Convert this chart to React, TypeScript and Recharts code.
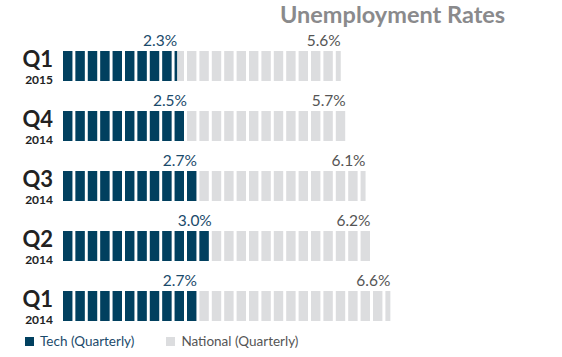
import { BarChart, Bar, XAxis, YAxis, LabelList } from "recharts"

const quarters = ["Q1", "Q4", "Q3", "Q2", "Q1"]
const years = ["2015", "2014", "2014", "2014", "2014"]
const techRates = [2.3, 2.5, 2.7, 3.0, 2.7]
const nationalRates = [5.6, 5.7, 6.1, 6.2, 6.6]

const TECH = "#01405f"
const NATIONAL = "#dcdddf"
const FONT = "Lato, 'Open Sans', sans-serif"

const data = quarters.map((q, i) => ({
  key: `${q} ${years[i]}`,
  quarter: q,
  year: years[i],
  tech: techRates[i],
  national: nationalRates[i],
}))

// each block is a quarter of a percentage point
const STEP = 0.25
const GAP = 3

const segmented = (fill: string) => (props: any) => {
  const { x, y, width, height, value } = props
  const v = Array.isArray(value) ? value[1] - value[0] : value
  if (!v || width <= 0) return <g />
  const seg = (width / v) * STEP
  const rects = []
  for (let i = 0; i * seg < width - 0.01; i++) {
    const sx = x + i * seg
    const w = Math.min(seg - GAP, x + width - sx)
    rects.push(<rect key={i} x={sx} y={y} width={Math.max(w, 0)} height={height} fill={fill} />)
  }
  return <g>{rects}</g>
}

const valueLabel = (color: string) => (props: any) => {
  const { x, y, width, value } = props
  return (
    <text x={x + width} y={y - 5} textAnchor="end" fill={color} fontSize={15.5} fontFamily={FONT}>
      {`${Number(value).toFixed(1)}%`}
    </text>
  )
}

const QuarterTick = (props: any) => {
  const { x, y, payload } = props
  const row = data.find((d) => d.key === payload.value)
  return (
    <g>
      <text x={x} y={y + 1} textAnchor="end" fill="#222" fontSize={22} fontWeight="bold" fontFamily={FONT}>
        {row?.quarter}
      </text>
      <text x={x} y={y + 18} textAnchor="end" fill="#222" fontSize={12} fontWeight="bold" fontFamily={FONT}>
        {row?.year}
      </text>
    </g>
  )
}

export default function App() {
  return (
    <div style={{ position: "absolute", left: 0, top: 0, width: 562, height: 357, background: "#fff", fontFamily: FONT }}>
      <div style={{ position: "absolute", left: 280, top: 1, fontSize: 23.5, lineHeight: "26px", fontWeight: "bold", color: "#8a8a8c" }}>
        Unemployment Rates
      </div>
      <BarChart
        width={562}
        height={357}
        layout="vertical"
        data={data}
        margin={{ top: 36, right: 3, bottom: 21, left: 0 }}
        barSize={30}
        barGap={-30}
      >
        <XAxis type="number" domain={[0, 10]} hide />
        <YAxis
          type="category"
          dataKey="key"
          width={63}
          axisLine={false}
          tickLine={false}
          tickMargin={4}
          tick={<QuarterTick />}
        />
        <Bar dataKey="national" shape={segmented(NATIONAL)} isAnimationActive={false}>
          <LabelList dataKey="national" content={valueLabel("#555")} />
        </Bar>
        <Bar dataKey="tech" shape={segmented(TECH)} isAnimationActive={false}>
          <LabelList dataKey="tech" content={valueLabel("#1b4a6b")} />
        </Bar>
      </BarChart>
      <div style={{ position: "absolute", left: 25, top: 333, fontSize: 13.5, display: "flex", alignItems: "center" }}>
        <span style={{ width: 9, height: 9, background: TECH, display: "inline-block", marginRight: 6 }} />
        <span style={{ color: "#1b4a6b" }}>Tech (Quarterly)</span>
        <span style={{ width: 9, height: 9, background: NATIONAL, display: "inline-block", marginLeft: 32, marginRight: 6 }} />
        <span style={{ color: "#555" }}>National (Quarterly)</span>
      </div>
    </div>
  )
}
